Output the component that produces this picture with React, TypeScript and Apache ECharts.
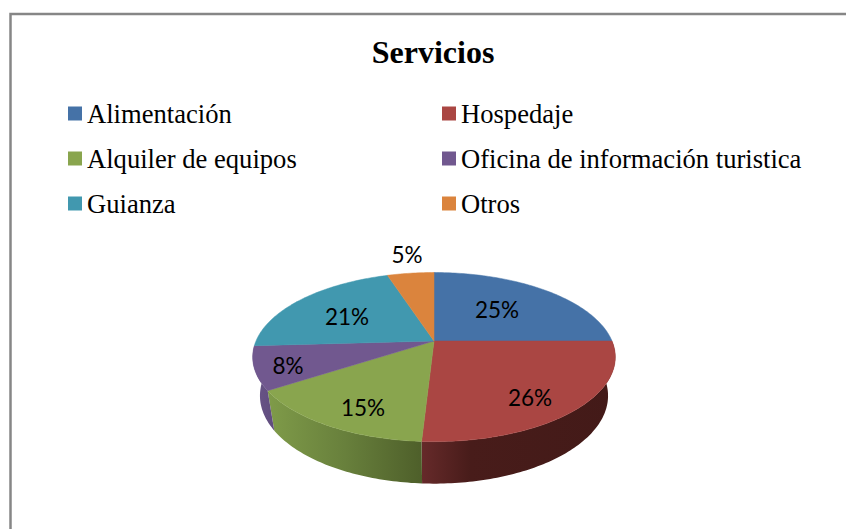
import React, { useEffect, useRef } from "react";
import * as echarts from "echarts";

const title = "Servicios";
const categories = ["Alimentación", "Hospedaje", "Alquiler de equipos", "Oficina de información turistica", "Guianza", "Otros"];
const values = [25, 25.9, 14.9, 8.3, 20.9, 5.0];
const colors = ["#4572a7", "#aa4643", "#89a54e", "#71588f", "#4198af", "#db843d"];
const sideStops: (string[] | null)[] = [
  null,
  ["#662a2a", "#481c1a", "#431a18"],
  ["#7f9b49", "#68803c", "#4e5f2a"],
  ["#6a5688", "#655183", "#604d7e"],
  null,
  null,
];
const sideMid = [0, 0.25, 0.5, 0.5, 0, 0];

// pie projection and text layout (pixels)
const CX = 434, CY = 341, RX = 178, SY = 81.5, K = 0.19;
const LABEL_POS = [[497, 309], [530, 397], [363, 407], [288, 365], [347, 316], [407, 254]];

const total = values.reduce((a, b) => a + b, 0);
const starts = values.map((_, i) => values.slice(0, i).reduce((a, b) => a + b, 0));

function project(deg: number, r = 1): [number, number] {
  const t = (deg * Math.PI) / 180;
  const u = r * Math.sin(t), v = -r * Math.cos(t);
  const w = 1 - K * v;
  return [CX + (RX * u) / w, CY + (SY * v) / w];
}
function lower(p: [number, number]): [number, number] {
  return [CX + 0.96 * (p[0] - CX), CY + 38 + 1.04 * (p[1] - CY)];
}
function arc(a0: number, a1: number): [number, number][] {
  const pts: [number, number][] = [];
  const n = Math.max(2, Math.ceil(a1 - a0));
  for (let i = 0; i <= n; i++) pts.push(project(a0 + ((a1 - a0) * i) / n));
  return pts;
}

function renderSlice(idx: number) {
  return () => {
    const a0 = (starts[idx] / total) * 360;
    const a1 = ((starts[idx] + values[idx]) / total) * 360;
    const children: any[] = [];
    const stops = sideStops[idx];
    const lo = Math.max(a0, 88), hi = Math.min(a1, 272);
    if (stops && hi > lo) {
      const top = arc(lo, hi);
      const bottom = top.map(lower).reverse();
      children.push({
        type: "polygon",
        shape: { points: [...top, ...bottom] },
        style: {
          fill: new echarts.graphic.LinearGradient(0, 0, 1, 0, [
            { offset: 0, color: stops[0] },
            { offset: sideMid[idx], color: stops[1] },
            { offset: 1, color: stops[2] },
          ]),
        },
      });
    }
    children.push({
      type: "polygon",
      shape: { points: [[CX, CY], ...arc(a0, a1)] },
      style: { fill: colors[idx], stroke: colors[idx], lineWidth: 0.5 },
    });
    children.push({
      type: "text",
      z2: 10,
      style: {
        text: `${Math.round((values[idx] / total) * 100)}%`,
        x: LABEL_POS[idx][0],
        y: LABEL_POS[idx][1],
        textAlign: "center",
        textVerticalAlign: "middle",
        fontFamily: "Lato, 'Noto Sans', sans-serif",
        fontSize: 22.5,
        fill: "#000",
      },
    });
    return { type: "group", children };
  };
}

const legendBase = {
  orient: "vertical" as const,
  icon: "rect",
  itemWidth: 14,
  itemHeight: 14,
  itemGap: 14,
  selectedMode: false,
  padding: 0,
  textStyle: {
    fontFamily: "'Liberation Serif', 'Times New Roman', serif",
    fontSize: 26.6,
    color: "#000",
    padding: [1, 0, 0, 0],
    height: 30,
    lineHeight: 30,
  },
};

export default function App() {
  const ref = useRef<HTMLDivElement>(null);
  useEffect(() => {
    document.body.style.margin = "0";
    const chart = echarts.init(ref.current!, undefined, { renderer: "svg" });
    chart.setOption({
      animation: false,
      backgroundColor: "#ffffff",
      title: {
        text: title,
        left: 428,
        top: 31,
        textAlign: "center",
        textStyle: {
          fontFamily: "'Liberation Serif', 'Times New Roman', serif",
          fontWeight: "bold",
          fontSize: 32,
          color: "#000",
        },
      },
      legend: [
        { ...legendBase, left: 68, top: 98, data: [categories[0], categories[2], categories[4]] },
        { ...legendBase, left: 442, top: 98, data: [categories[1], categories[3], categories[5]] },
      ],
      graphic: [
        {
          type: "polyline",
          shape: { points: [[10.5, 540], [10.5, 14], [860, 14]] },
          style: { stroke: "#868686", lineWidth: 2.5, fill: "none" },
        },
      ],
      series: categories.map((name, i) => ({
        type: "custom",
        name,
        coordinateSystem: "none",
        itemStyle: { color: colors[i] },
        data: [values[i]],
        renderItem: renderSlice(i),
      })),
    });
    return () => chart.dispose();
  }, []);
  return <div ref={ref} style={{ width: 846, height: 529 }} />;
}
